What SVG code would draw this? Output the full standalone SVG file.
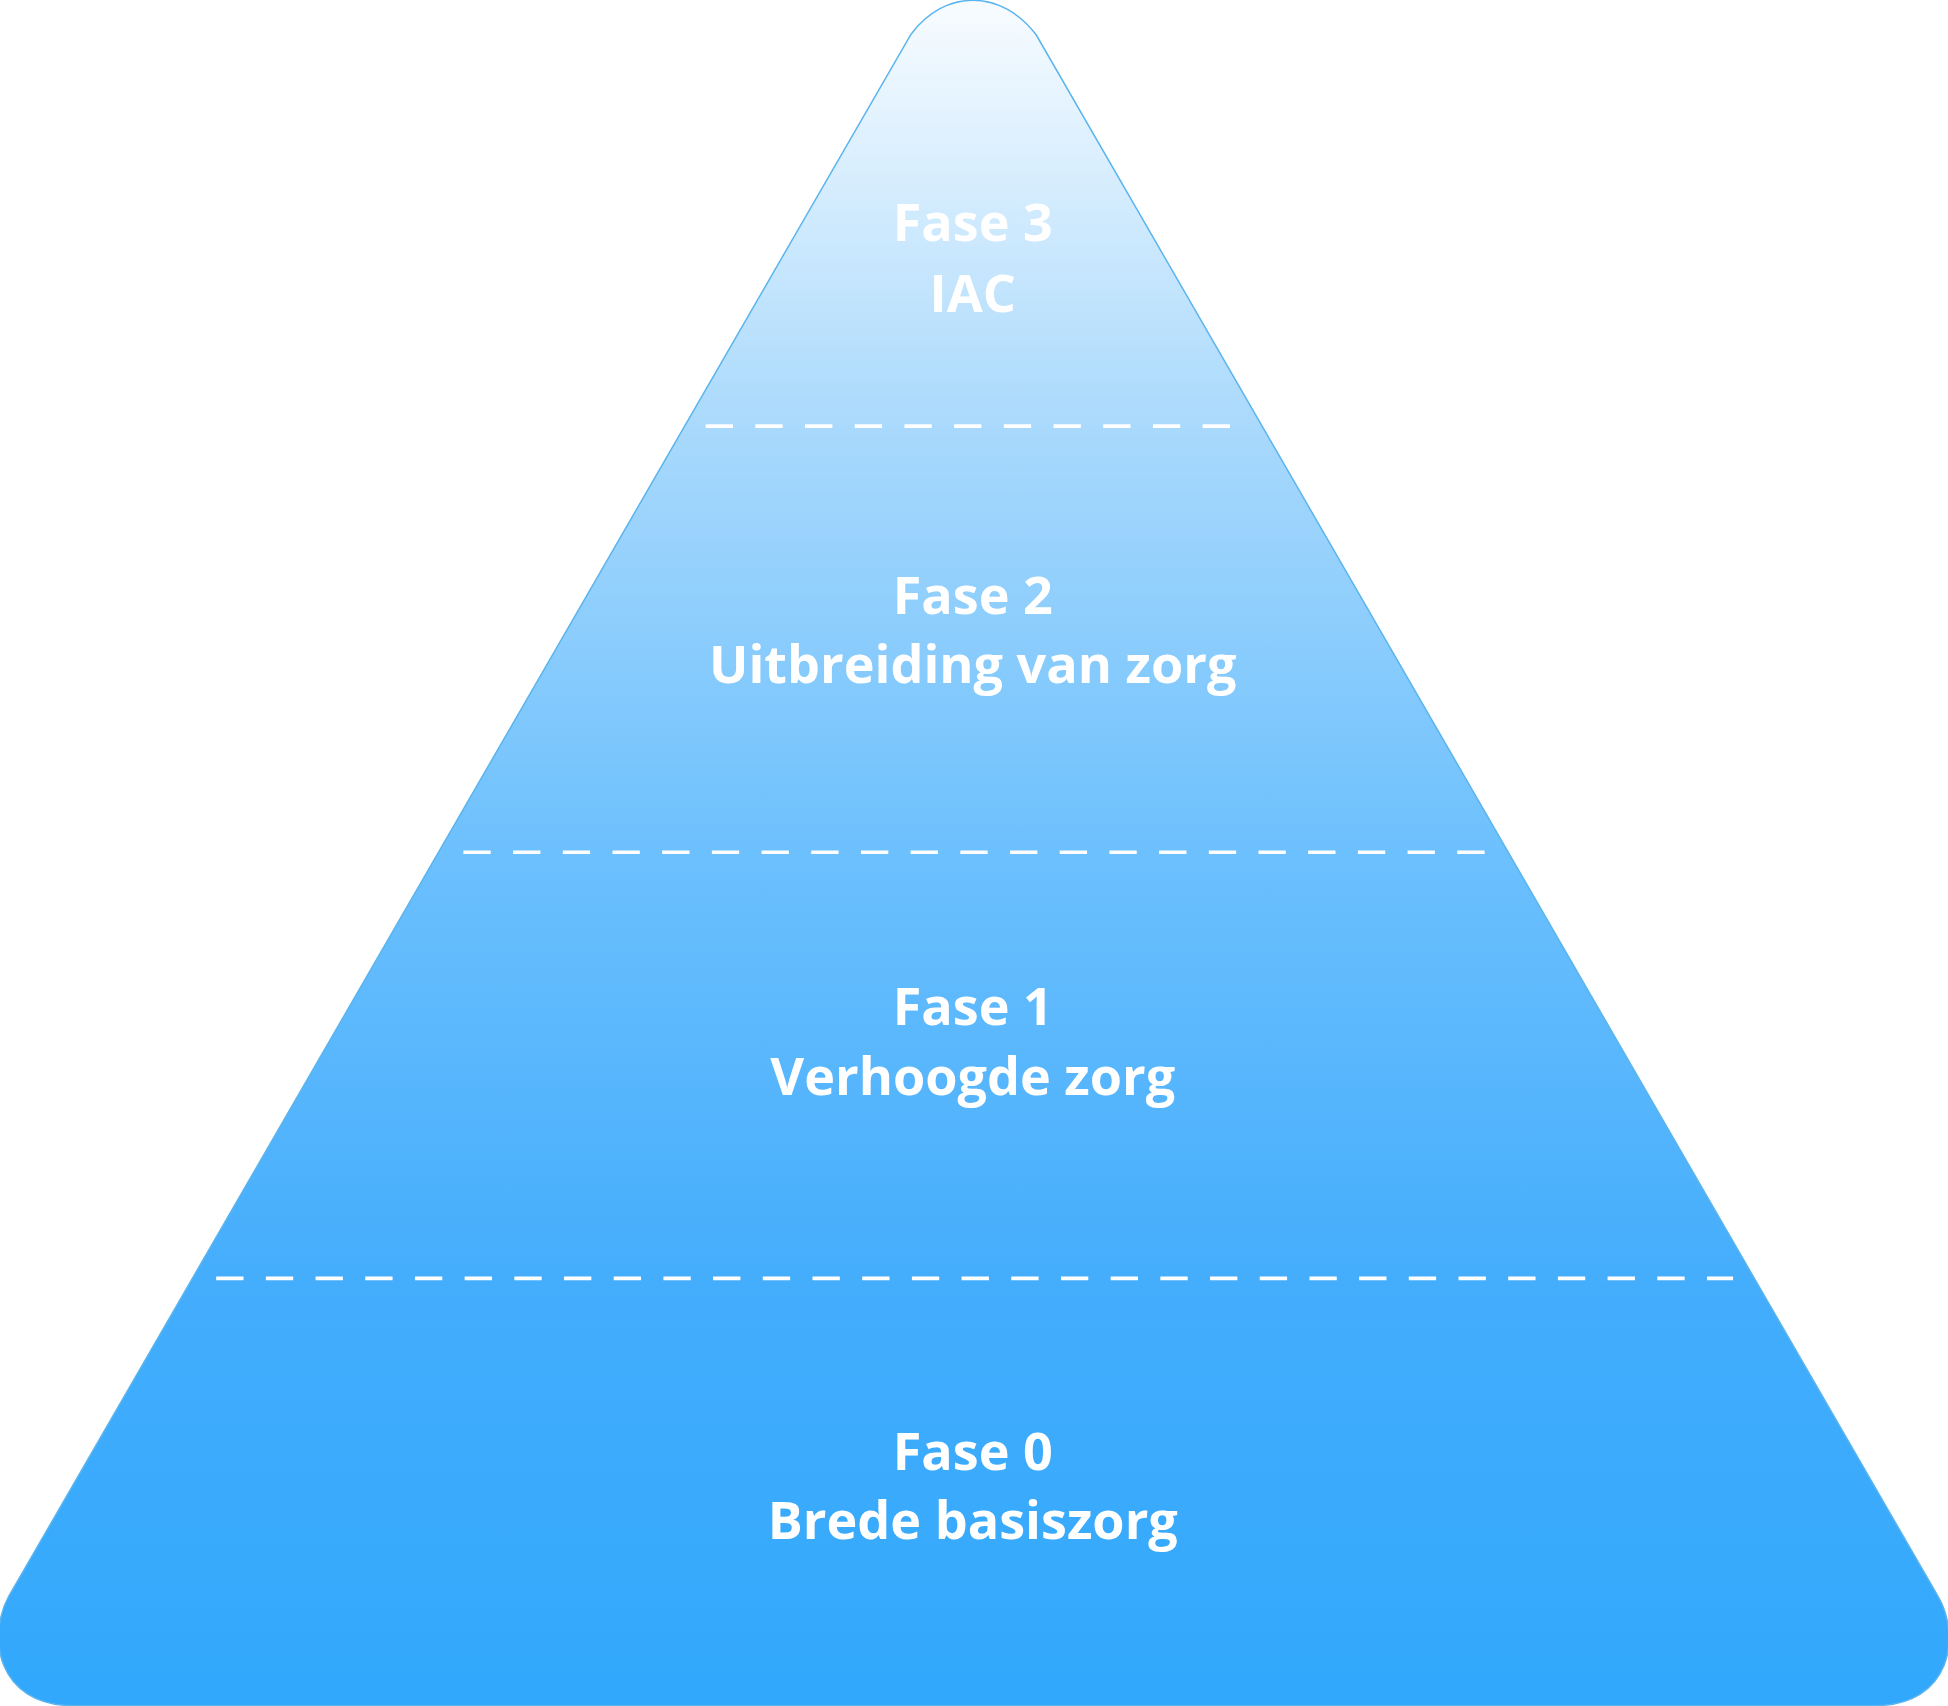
<svg xmlns="http://www.w3.org/2000/svg" width="1948" height="1706" viewBox="0 0 1948 1706">
<defs>
<linearGradient id="g" x1="0" y1="0" x2="0" y2="1">
<stop offset="0" stop-color="#f8fcff"/>
<stop offset="0.25" stop-color="#a9d9fc"/>
<stop offset="0.5" stop-color="#6cc0fd"/>
<stop offset="0.75" stop-color="#44adfc"/>
<stop offset="1" stop-color="#31a8fc"/>
</linearGradient>
<style>
.d{stroke:#fff;stroke-width:3;stroke-dasharray:22 18;fill:none}
.t{font-family:"Open Sans",Lato,sans-serif;font-weight:bold;font-size:42px;fill:#fff;text-anchor:middle}
</style>
</defs>
<g transform="scale(1.24235)">
<g id="pyramid">
<path d="M733,28 C760,-9 806,-9 834,28 L1560,1285 C1578,1316 1572,1373 1508,1373 L60,1373 C-4,1373 -10,1316 7,1285 Z" fill="url(#g)" stroke="#5ab4ee" stroke-width="1.2"/>
</g>
<g id="connectors">
<line class="d" x1="568" y1="343" x2="1000" y2="343"/>
<line class="d" x1="373" y1="686" x2="1195" y2="686"/>
<line class="d" x1="174" y1="1029" x2="1395" y2="1029"/>
</g>
<g id="fase3"><text class="t" x="783" y="194">Fase 3</text><text class="t" x="783" y="251">IAC</text></g>
<g id="fase2"><text class="t" x="783" y="494">Fase 2</text><text class="t" x="783" y="550">Uitbreiding van zorg</text></g>
<g id="fase1"><text class="t" x="783" y="825">Fase 1</text><text class="t" x="783" y="881">Verhoogde zorg</text></g>
<g id="fase0"><text class="t" x="783" y="1183">Fase 0</text><text class="t" x="783" y="1239">Brede basiszorg</text></g>
</g>
</svg>
